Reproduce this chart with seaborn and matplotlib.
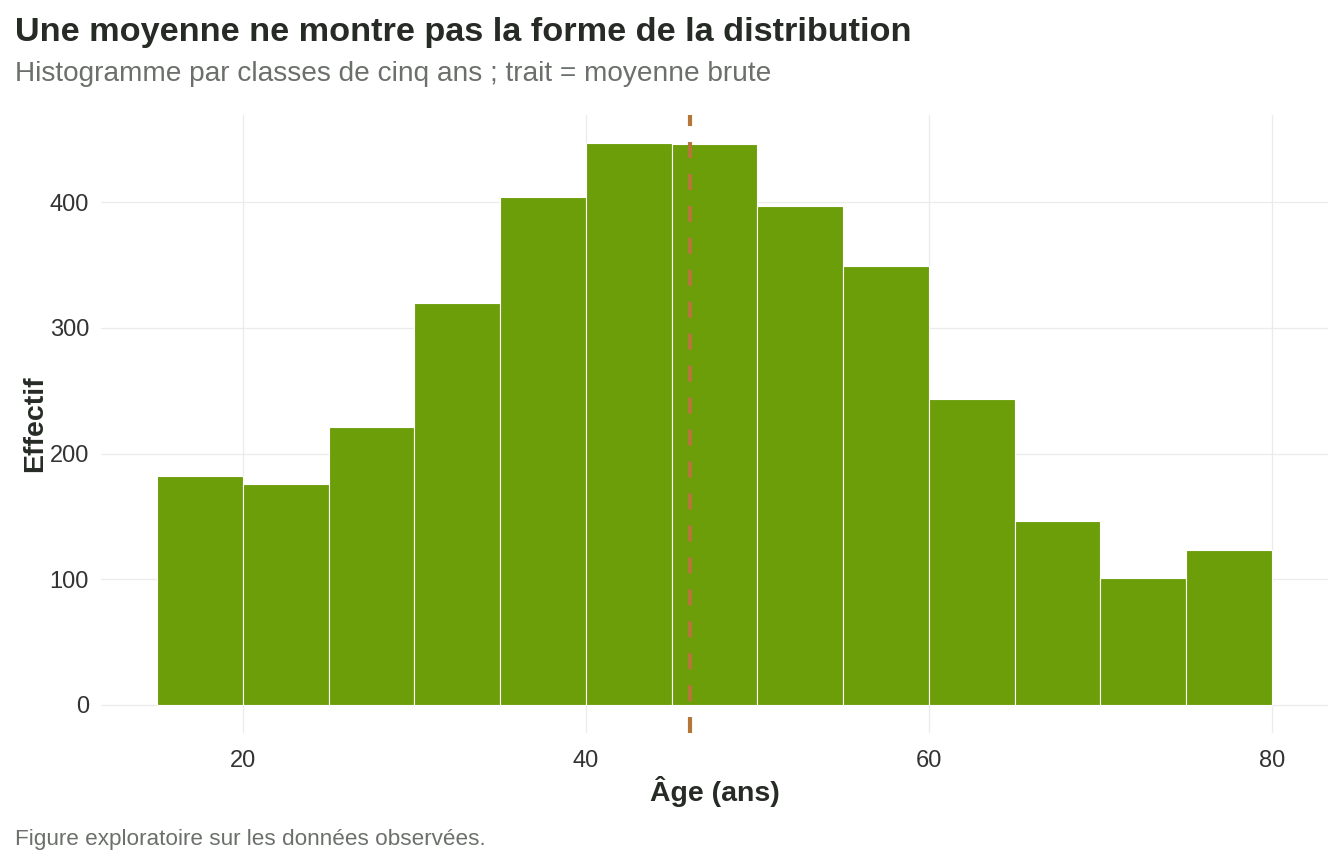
import matplotlib
matplotlib.use("Agg")
import matplotlib.pyplot as plt
import seaborn as sns
import numpy as np
import pandas as pd

# Classes d'âge de cinq ans (bornes inférieures) et effectifs
bin_starts = [15, 20, 25, 30, 35, 40, 45, 50, 55, 60, 65, 70, 75]
counts = [182, 176, 221, 320, 404, 447, 446, 397, 349, 243, 146, 101, 123]
bin_width = 5
mean_age = 46.05

title = "Une moyenne ne montre pas la forme de la distribution"
subtitle = "Histogramme par classes de cinq ans ; trait = moyenne brute"
caption = "Figure exploratoire sur les données observées."

bar_color = "#6C9E0A"
line_color = "#B5763A"
dark = "#262b26"
grey = "#6b706b"

sns.set_theme(style="white")
plt.rcParams["font.family"] = ["Liberation Sans", "DejaVu Sans"]
plt.rcParams["lines.scale_dashes"] = False

df = pd.DataFrame({"age": [b + bin_width / 2 for b in bin_starts], "n": counts})
edges = list(bin_starts) + [bin_starts[-1] + bin_width]

fig = plt.figure(figsize=(13.44, 8.64), dpi=100)
ax = fig.add_axes([0.0755, 0.1516, 0.9124, 0.7153])

sns.histplot(data=df, x="age", weights="n", bins=edges, color=bar_color,
             alpha=1, edgecolor="white", linewidth=0.8, ax=ax, zorder=2)
ax.axvline(mean_age, color=line_color, lw=3.0, linestyle=(0, (11.5, 11.5)),
           solid_capstyle="butt", zorder=3)

xr = edges[-1] - edges[0]
ax.set_xlim(edges[0] - 0.05 * xr, edges[-1] + 0.05 * xr)
ymax = max(counts)
ax.set_ylim(-0.05 * ymax, 1.05 * ymax)
ax.set_xticks([20, 40, 60, 80])
ax.set_yticks([0, 100, 200, 300, 400])
ax.grid(True, color="#EBEBEB", lw=0.9, zorder=0)
ax.set_axisbelow(True)
for s in ax.spines.values():
    s.set_visible(False)
ax.tick_params(length=0, labelsize=17, labelcolor="#333333")
ax.tick_params(axis="x", pad=12)
ax.tick_params(axis="y", pad=9)

ax.set_xlabel("Âge (ans)", fontsize=20.5, fontweight="bold", color=dark, labelpad=3)
ax.set_ylabel("Effectif", fontsize=20.5, fontweight="bold", color=dark, labelpad=1)

fig.text(15 / 1344, 1 - 41 / 864, title, fontsize=24.7, fontweight="bold", color=dark)
fig.text(15 / 1344, 1 - 81 / 864, subtitle, fontsize=20.2, color=grey)
fig.text(15 / 1344, 1 - 845 / 864, caption, fontsize=16.2, color=grey)

fig.savefig("out.png", dpi=100, facecolor="white")
